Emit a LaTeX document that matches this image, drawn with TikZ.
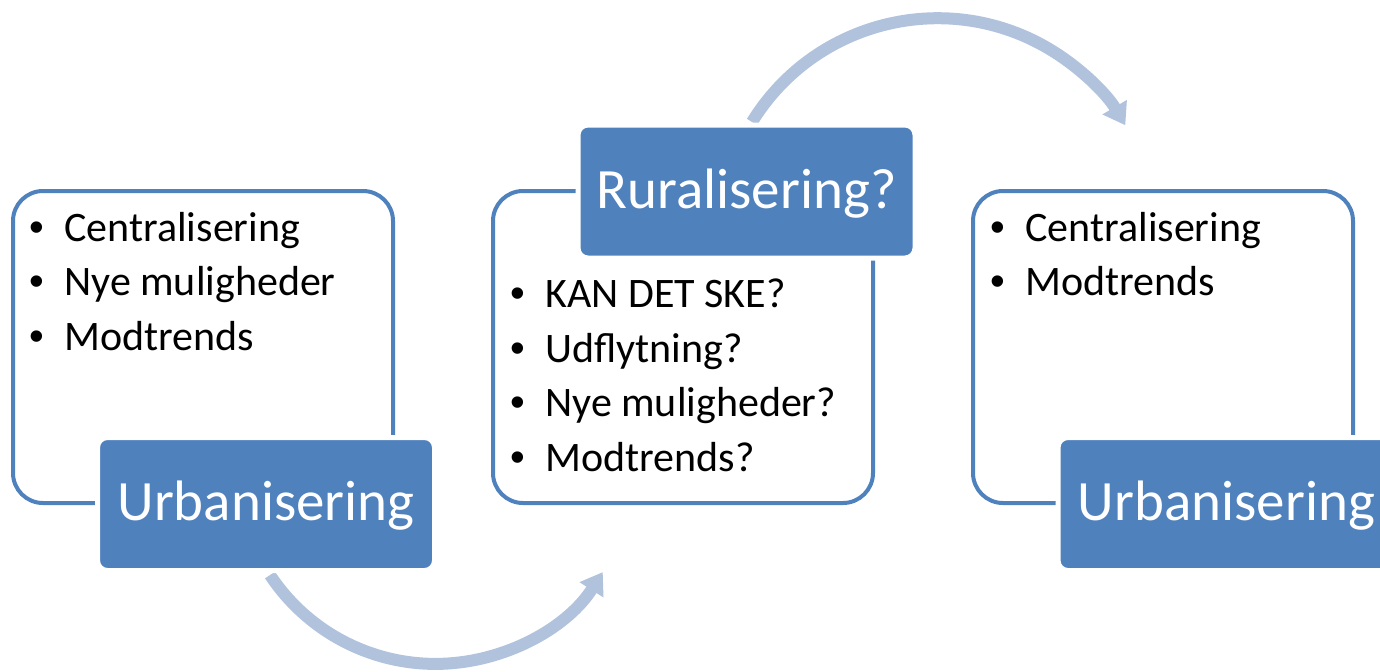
\documentclass[tikz,border=0pt]{standalone}
\usepackage{fontspec}
\setmainfont{Carlito}
\newfontfamily\bulfont{Liberation Sans}
\usetikzlibrary{arrows.meta}
\definecolor{accent}{RGB}{79,129,189}
\definecolor{flowc}{RGB}{177,194,221}
\tikzset{
  outl/.style={draw=accent, line width=2pt, rounded corners=15pt, minimum width=190pt, minimum height=156pt, inner sep=0pt},
  titlebox/.style={fill=accent, draw=white, line width=2.5pt, rounded corners=5pt, minimum width=168.5pt, minimum height=66.5pt, inner sep=0pt, text=white, font=\fontsize{28.5pt}{34pt}\selectfont},
  bul/.style={anchor=base, inner sep=0pt, font=\bulfont\fontsize{21pt}{27pt}\selectfont},
  itm/.style={anchor=base west, inner sep=0pt, font=\fontsize{21pt}{27pt}\selectfont},
  ttl/.style={anchor=base, inner sep=0pt, text=white, font=\fontsize{28.5pt}{34pt}\selectfont},
  flow/.style={draw=flowc, line width=6pt, -{Triangle[width=13.5pt,length=10.5pt]}}
}
\newcommand{\bitem}[5]{%
  \node[bul] (#1b) at (#2,#4) {•};
  \node[itm] (#1) at (#3,#4) {#5};}
\begin{document}
\begin{tikzpicture}[x=0.5pt,y=-0.5pt]
\useasboundingbox (0,0) rectangle (1380,671);
\begin{scope}
\clip (0,0) rectangle (1380,671);
% arrows (behind)
\coordinate (s1) at (270,575);
\draw[flow] (s1) arc[start angle=213.5, end angle=327.5, radius=99.2pt];
\coordinate (s2) at (752,122);
\draw[flow] (s2) arc[start angle=148.4, end angle=30.6, radius=109pt];
% outline boxes
\node[outl] (b1) at (203,347) {};
\node[outl] (b2) at (683,347) {};
\node[outl] (b3) at (1163,347) {};
% title boxes
\node[titlebox] (t1) at (266,504) {};
\node[titlebox] (t2) at (746.5,191.5) {};
\node[titlebox] (t3) at (1226.5,504) {};
\node[ttl] (l1) at (266,520) {Urbanisering};
\node[ttl] (l2) at (746.5,208) {Ruralisering?};
\node[ttl] (l3) at (1226.5,520) {Urbanisering};
% bullets
\bitem{a1}{37}{64}{241}{Centralisering}
\bitem{a2}{37}{64}{295.5}{Nye muligheder}
\bitem{a3}{37}{64}{350}{Modtrends}
\bitem{m1}{518}{545}{307}{KAN DET SKE?}
\bitem{m2}{518}{545}{362}{Udflytning?}
\bitem{m3}{518}{545}{416}{Nye muligheder?}
\bitem{m4}{518}{545}{471}{Modtrends?}
\bitem{r1}{998}{1025}{241}{Centralisering}
\bitem{r2}{998}{1025}{295.5}{Modtrends}
\end{scope}
\end{tikzpicture}
\end{document}
